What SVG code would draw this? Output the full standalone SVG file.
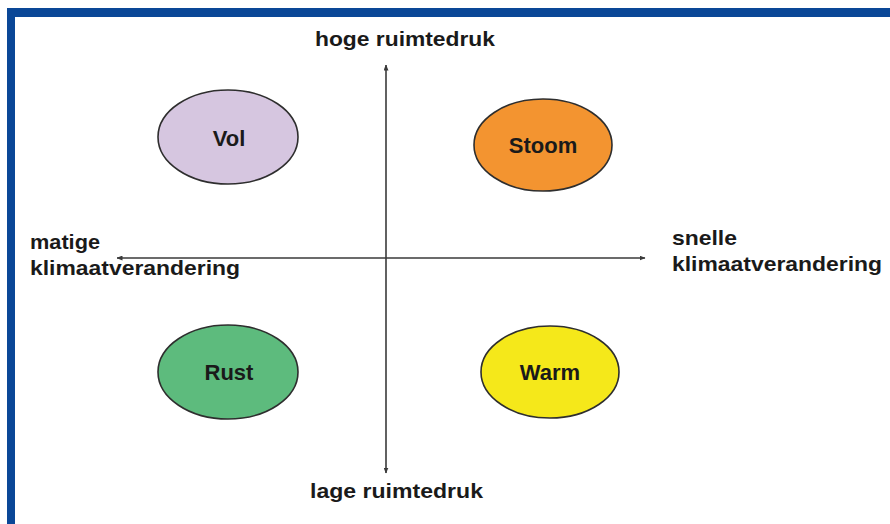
<svg xmlns="http://www.w3.org/2000/svg" width="890" height="524" viewBox="0 0 890 524">
  <style>
    .axis { stroke: #3a3a3a; stroke-width: 1.6; fill: none; }
    .node { stroke: #2e2e2e; stroke-width: 1.6; }
    .lbl { font-family: "Liberation Sans", Arial, sans-serif; font-weight: bold; fill: #1a1a1a; }
    .axl { font-size: 20.5px; }
    .ndl { font-size: 22px; text-anchor: middle; }
  </style>
  <defs>
    <marker id="arr" viewBox="0 0 6 5" refX="5.5" refY="2.5" markerWidth="6" markerHeight="5" markerUnits="userSpaceOnUse" orient="auto-start-reverse">
      <path d="M0,0 L6,2.5 L0,5 z" fill="#3a3a3a"/>
    </marker>
  </defs>
  <rect x="0" y="0" width="890" height="524" fill="#ffffff"/>
  <g id="frame">
    <rect x="7" y="8" width="883" height="9" fill="#0a4797"/>
    <rect x="7" y="8" width="8" height="516" fill="#0a4797"/>
  </g>
  <g id="connectors">
    <line class="axis" x1="386" y1="473" x2="386" y2="65" marker-start="url(#arr)" marker-end="url(#arr)"/>
    <line class="axis" x1="117" y1="258" x2="645" y2="258" marker-start="url(#arr)" marker-end="url(#arr)"/>
  </g>
  <g id="axis-labels">
    <text class="lbl axl" x="315" y="46" textLength="180" lengthAdjust="spacingAndGlyphs">hoge ruimtedruk</text>
    <text class="lbl axl" x="310" y="498" textLength="173" lengthAdjust="spacingAndGlyphs">lage ruimtedruk</text>
    <text class="lbl axl" x="30" y="249" textLength="70" lengthAdjust="spacingAndGlyphs">matige</text>
    <text class="lbl axl" x="30" y="275" textLength="210" lengthAdjust="spacingAndGlyphs">klimaatverandering</text>
    <text class="lbl axl" x="672" y="245" textLength="65" lengthAdjust="spacingAndGlyphs">snelle</text>
    <text class="lbl axl" x="672" y="271" textLength="210" lengthAdjust="spacingAndGlyphs">klimaatverandering</text>
  </g>
  <g id="node-vol">
    <ellipse class="node" cx="228" cy="137" rx="70" ry="47" fill="#d6c6e0"/>
    <text class="lbl ndl" x="229" y="146">Vol</text>
  </g>
  <g id="node-stoom">
    <ellipse class="node" cx="543" cy="145" rx="69" ry="46" fill="#f39430"/>
    <text class="lbl ndl" x="543" y="153">Stoom</text>
  </g>
  <g id="node-rust">
    <ellipse class="node" cx="228" cy="372" rx="70" ry="47" fill="#5dbb7d"/>
    <text class="lbl ndl" x="229" y="380">Rust</text>
  </g>
  <g id="node-warm">
    <ellipse class="node" cx="550" cy="372" rx="69" ry="46" fill="#f5e81a"/>
    <text class="lbl ndl" x="550" y="380">Warm</text>
  </g>
</svg>
